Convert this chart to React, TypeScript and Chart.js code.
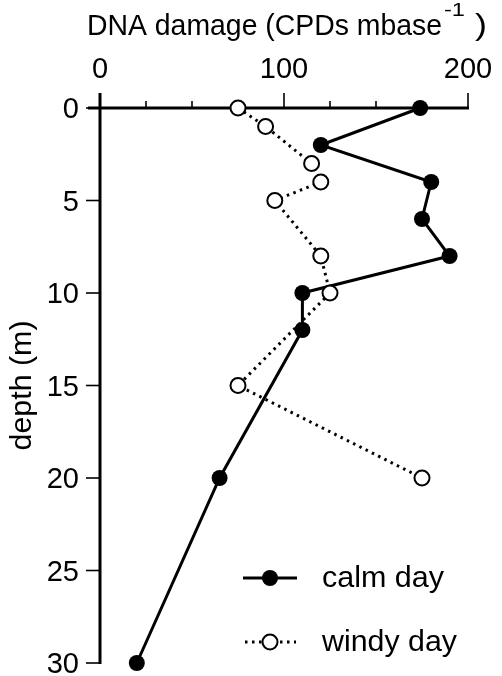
import React, { useEffect, useRef } from "react";
import { Chart, registerables } from "chart.js";

Chart.register(...registerables);

const depthsCalm = [0, 2, 4, 6, 8, 10, 12, 20, 30];
const damageCalm = [174, 120, 180, 175, 190, 110, 110, 65, 20];
const depthsWindy = [0, 1, 3, 4, 5, 8, 10, 15, 20];
const damageWindy = [75, 90, 115, 120, 95, 120, 125, 75, 175];
const xMajorTicks = [0, 100, 200];
const xMinorTicks = [25, 50, 75, 125, 150, 175];
const yTicks = [0, 5, 10, 15, 20, 25, 30];
const legendLabels = ["calm day", "windy day"];
const titleMain = "DNA damage (CPDs mbase";
const titleSup = "-1";
const titleEnd = ")";
const yTitle = "depth (m)";

const FONT = "'Liberation Sans', Arial, Helvetica, sans-serif";

// draw text starting at x (left) stretched horizontally by sx
function drawStretched(ctx: any, text: string, x: number, y: number, sx: number) {
  ctx.save();
  ctx.translate(x, y);
  ctx.scale(sx, 1);
  ctx.textAlign = "left";
  ctx.fillText(text, 0, 0);
  ctx.restore();
}

function fitLeft(ctx: any, text: string, x: number, y: number, width: number) {
  const w = ctx.measureText(text).width;
  drawStretched(ctx, text, x, y, width / w);
}

const axesPlugin = {
  id: "customAxes",
  beforeDatasetsDraw(chart: any) {
    const { ctx, chartArea, scales } = chart;
    const xs = scales.x;
    const ys = scales.y;
    const top = chartArea.top;
    const left = chartArea.left;
    ctx.save();
    ctx.strokeStyle = "#000";
    ctx.fillStyle = "#000";
    ctx.lineWidth = 3;
    ctx.lineCap = "butt";
    // x axis line (top)
    ctx.beginPath();
    ctx.moveTo(left - 12, top);
    ctx.lineTo(xs.getPixelForValue(200) + 1, top);
    ctx.stroke();
    // y axis line
    ctx.beginPath();
    ctx.moveTo(left, top - 15);
    ctx.lineTo(left, ys.getPixelForValue(30) + 1);
    ctx.stroke();
    // x ticks
    ctx.lineWidth = 1.6;
    xMajorTicks.forEach((v) => {
      const px = xs.getPixelForValue(v);
      ctx.beginPath();
      ctx.moveTo(px, top);
      ctx.lineTo(px, top - 15);
      ctx.stroke();
    });
    xMinorTicks.forEach((v) => {
      const px = xs.getPixelForValue(v);
      ctx.beginPath();
      ctx.moveTo(px, top);
      ctx.lineTo(px, top - 7);
      ctx.stroke();
    });
    yTicks.forEach((v) => {
      const py = ys.getPixelForValue(v);
      ctx.beginPath();
      ctx.moveTo(left, py);
      ctx.lineTo(left - 14, py);
      ctx.stroke();
    });
    // tick labels
    ctx.font = `29px ${FONT}`;
    ctx.textAlign = "center";
    ctx.textBaseline = "alphabetic";
    xMajorTicks.forEach((v) => {
      ctx.fillText(String(v), xs.getPixelForValue(v), top - 30);
    });
    ctx.textAlign = "right";
    yTicks.forEach((v) => {
      ctx.fillText(String(v), left - 21, ys.getPixelForValue(v) + 10);
    });
    // y title
    ctx.save();
    const cy = (ys.getPixelForValue(0) + ys.getPixelForValue(30)) / 2;
    ctx.translate(31, cy);
    ctx.rotate(-Math.PI / 2);
    ctx.font = `30px ${FONT}`;
    ctx.textBaseline = "alphabetic";
    fitLeft(ctx, yTitle, -65, 0, 130);
    ctx.restore();
    // top title with superscript
    ctx.textBaseline = "alphabetic";
    ctx.font = `30px ${FONT}`;
    fitLeft(ctx, titleMain, 87, 35, 355);
    ctx.font = `18px ${FONT}`;
    fitLeft(ctx, titleSup, 444, 16, 21);
    ctx.font = `30px ${FONT}`;
    fitLeft(ctx, titleEnd, 475, 35, 12);
    ctx.restore();
  },
  afterDraw(chart: any) {
    const { ctx, chartArea } = chart;
    ctx.save();
    const lx = chartArea.left + 143;
    const rows = [chartArea.bottom - 85, chartArea.bottom - 21];
    // calm
    ctx.strokeStyle = "#000";
    ctx.fillStyle = "#000";
    ctx.lineWidth = 3;
    ctx.beginPath();
    ctx.moveTo(lx, rows[0]);
    ctx.lineTo(lx + 54, rows[0]);
    ctx.stroke();
    ctx.beginPath();
    ctx.arc(lx + 27, rows[0], 8, 0, Math.PI * 2);
    ctx.fill();
    // windy
    ctx.setLineDash([2.5, 4.5]);
    ctx.beginPath();
    ctx.moveTo(lx + 2, rows[1]);
    ctx.lineTo(lx + 53, rows[1]);
    ctx.stroke();
    ctx.setLineDash([]);
    ctx.fillStyle = "#fff";
    ctx.lineWidth = 2;
    ctx.beginPath();
    ctx.arc(lx + 27, rows[1], 7.5, 0, Math.PI * 2);
    ctx.fill();
    ctx.stroke();
    ctx.fillStyle = "#000";
    ctx.font = `30px ${FONT}`;
    ctx.textBaseline = "alphabetic";
    fitLeft(ctx, legendLabels[0], lx + 79, rows[0] + 9, 122);
    fitLeft(ctx, legendLabels[1], lx + 79, rows[1] + 9, 135);
    ctx.restore();
  },
};

export default function App() {
  const ref = useRef<HTMLCanvasElement | null>(null);
  useEffect(() => {
    const canvas = ref.current;
    if (!canvas) return;
    const chart = new Chart(canvas, {
      type: "scatter",
      data: {
        datasets: [
          {
            label: legendLabels[0],
            data: depthsCalm.map((d, i) => ({ x: damageCalm[i], y: d })),
            showLine: true,
            borderColor: "#000",
            backgroundColor: "#000",
            borderWidth: 3,
            pointRadius: 8,
            pointBorderWidth: 0,
            pointBackgroundColor: "#000",
            clip: false,
            order: 2,
          },
          {
            label: legendLabels[1],
            data: depthsWindy.map((d, i) => ({ x: damageWindy[i], y: d })),
            showLine: true,
            borderColor: "#000",
            backgroundColor: "#fff",
            borderWidth: 3,
            borderDash: [2.5, 4.5],
            pointRadius: 7.5,
            pointBorderWidth: 2,
            pointBorderColor: "#000",
            pointBackgroundColor: "#fff",
            clip: false,
            order: 1,
          },
        ],
      },
      options: {
        animation: false,
        responsive: false,
        layout: { padding: { left: 100, right: 34, top: 108, bottom: 13 } },
        plugins: { legend: { display: false }, tooltip: { enabled: false }, title: { display: false } },
        scales: {
          x: { type: "linear", min: 0, max: 200, display: false },
          y: { type: "linear", min: 0, max: 30, reverse: true, display: false },
        },
      },
      plugins: [axesPlugin],
    });
    return () => chart.destroy();
  }, []);
  return (
    <div style={{ position: "absolute", left: 0, top: 0, width: 502, height: 676, background: "#fff" }}>
      <canvas ref={ref} width={502} height={676} />
    </div>
  );
}
